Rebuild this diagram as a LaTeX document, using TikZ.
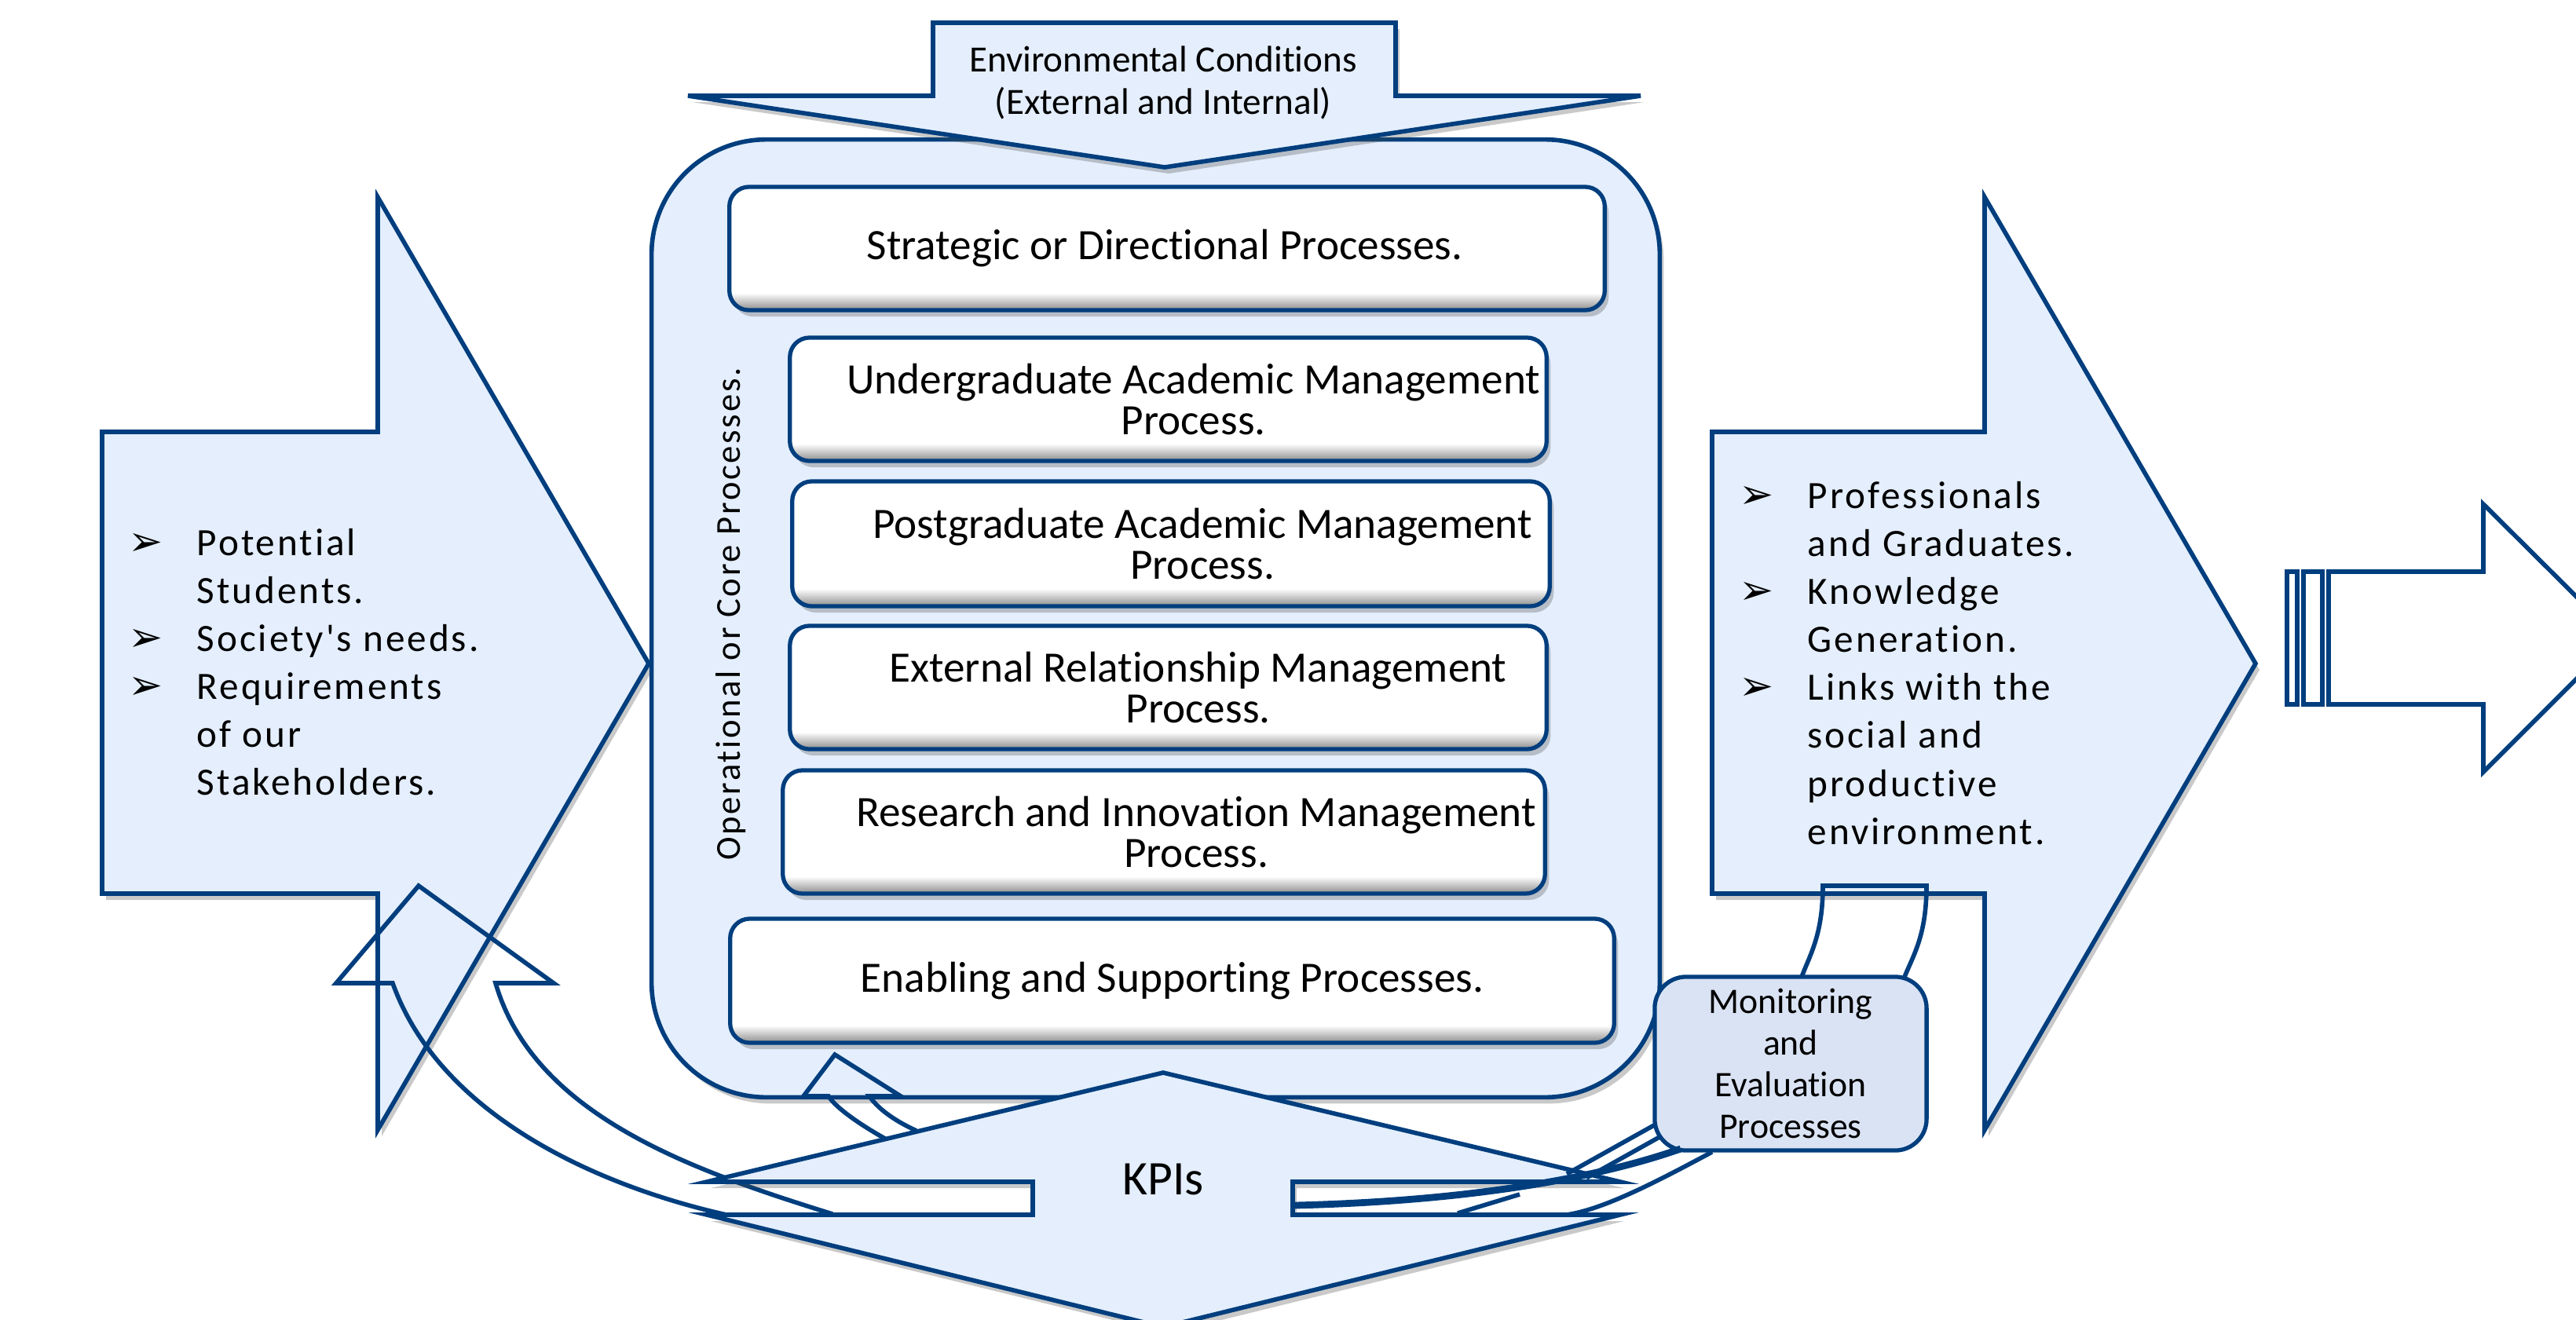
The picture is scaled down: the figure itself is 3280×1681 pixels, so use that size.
\documentclass[tikz,border=0pt]{standalone}
\usepackage{fontspec}
\setmainfont[Ligatures=NoCommon]{Carlito}
\newfontfamily\widefont[LetterSpace=6, Ligatures=NoCommon]{Carlito}
\newfontfamily\symfont{DejaVu Sans}
\usetikzlibrary{shadows}

\definecolor{navy}{RGB}{0,62,126}
\definecolor{paleblue}{RGB}{228,238,252}
\definecolor{monblue}{RGB}{218,227,243}

\newcommand{\arrowbullet}{{\symfont\fontsize{15}{15}\selectfont ➢}}

\pgfdeclareverticalshading{boxbevel}{100bp}{color(0bp)=(black!45); color(25bp)=(black!45);
  color(32bp)=(white); color(75bp)=(white); color(100bp)=(white)}

\tikzset{
  softshadow/.style={drop shadow={shadow xshift=0.5mm, shadow yshift=-0.8mm, opacity=0.3, fill=black!70}},
  blockarrow/.style={fill=paleblue, draw=navy, line width=1.6pt, line join=miter, softshadow},
  outline/.style={draw=navy, line width=1.6pt, line join=miter},
  procbox/.style={rectangle, draw=navy, shading=boxbevel, line width=1.5pt, rounded corners=0.25cm, softshadow},
  boxtext/.style={align=center, inner sep=0pt, font=\fontsize{15.7}{14.8}\selectfont},
  listtext/.style={anchor=base west, inner sep=0pt, font=\widefont\fontsize{14}{17.4}\selectfont},
}

\begin{document}
\begin{tikzpicture}[x=0.01cm, y=-0.01cm]
  \useasboundingbox (0,0) rectangle (3280,1681);
  \clip (0,0) rectangle (3280,1681);

  % inputs and outputs
  \draw[blockarrow] (130,550) -- (481,550) -- (481,251) -- (826,845) -- (481,1439) -- (481,1138) -- (130,1138) -- cycle;
  \draw[blockarrow] (2180,550) -- (2527,550) -- (2527,251) -- (2872,845) -- (2527,1439) -- (2527,1138) -- (2180,1138) -- cycle;

  \node[listtext] (inputs) at (163,707) {\begin{tabular}[t]{@{}p{0.87cm}@{}l@{}}
    \arrowbullet & Potential\\
                 & Students.\\
    \arrowbullet & Society's needs.\\
    \arrowbullet & Requirements\\
                 & of our\\
                 & Stakeholders.
  \end{tabular}};
  \node[listtext] (outputs) at (2214,647) {\begin{tabular}[t]{@{}p{0.87cm}@{}l@{}}
    \arrowbullet & Professionals\\
                 & and Graduates.\\
    \arrowbullet & Knowledge\\
                 & Generation.\\
    \arrowbullet & Links with the\\
                 & social and\\
                 & productive\\
                 & environment.
  \end{tabular}};

  % process map
  \node[draw=navy, fill=paleblue, line width=1.6pt, rounded corners=1.46cm,
        minimum width=12.83cm, minimum height=12.19cm, softshadow] (core) at (1471.5,787.5) {};

  \draw[blockarrow] (1188,29) -- (1777,29) -- (1777,122) -- (2089,122) -- (1483,213) -- (876,122) -- (1188,122) -- cycle;
  \node[boxtext, font=\fontsize{13.4}{15.4}\selectfont] (envtext) at (1481,105) {Environmental Conditions\\(External and Internal)};

  \node[procbox, minimum width=11.14cm, minimum height=1.57cm] (strat) at (1486,316.5) {};
  \node[procbox, minimum width=9.63cm, minimum height=1.57cm] (ugrad) at (1487.5,508.5) {};
  \node[procbox, minimum width=9.64cm, minimum height=1.59cm] (pgrad) at (1491,692.5) {};
  \node[procbox, minimum width=9.63cm, minimum height=1.57cm] (extrel) at (1487.5,875.5) {};
  \node[procbox, minimum width=9.70cm, minimum height=1.57cm] (research) at (1482,1059.5) {};
  \node[procbox, minimum width=11.25cm, minimum height=1.58cm] (enabling) at (1492.5,1249) {};

  \node[boxtext, xshift=-0.03cm] (strattext) at (strat) {Strategic or Directional Processes.};
  \node[boxtext, xshift=0.32cm] (ugradtext) at (ugrad) {Undergraduate Academic Management\\Process.};
  \node[boxtext, xshift=0.40cm] (pgradtext) at (pgrad) {Postgraduate Academic Management\\Process.};
  \node[boxtext, xshift=0.38cm] (extreltext) at (extrel) {External Relationship Management\\Process.};
  \node[boxtext, xshift=0.41cm] (researchtext) at (research) {Research and Innovation Management\\Process.};
  \node[boxtext] (enablingtext) at (enabling) {Enabling and Supporting Processes.};

  \node[rotate=90, inner sep=0pt, font=\widefont\fontsize{12.7}{15}\selectfont] (coretitle) at (931,782) {Operational or Core Processes.};

  % feedback
  \draw[outline] (1060,1546) .. controls (880,1490) and (680,1420) .. (631,1252) -- (705,1252) -- (533,1128)
    -- (428,1252) -- (500,1252) .. controls (560,1420) and (760,1510) .. (925,1547);
  \draw[outline] (1127,1450) .. controls (1100,1435) and (1065,1412) .. (1055,1396) -- (1023,1396) -- (1063,1343)
    -- (1147,1396) -- (1107,1396) .. controls (1120,1415) and (1145,1430) .. (1167,1440);

  \draw[blockarrow] (1481,1366) -- (2063,1505) -- (1646,1505) -- (1646,1547) -- (2063,1547) -- (1481,1690)
    -- (900,1547) -- (1315,1547) -- (1315,1505) -- (900,1505) -- cycle;
  \node[font=\fontsize{17.5}{19}\selectfont] (kpis) at (1481,1502) {KPIs};

  \draw[outline] (2294,1244) .. controls (2305,1215) and (2321,1190) .. (2321,1128) -- (2453,1128)
    .. controls (2453,1190) and (2437,1215) .. (2425,1244);
  \node[draw=navy, fill=monblue, line width=1.5pt, rounded corners=0.4cm, minimum width=3.46cm, minimum height=2.21cm,
        align=center, font=\fontsize{13}{15.1}\selectfont] (monitor) at (2280,1354.5) {Monitoring\\and\\Evaluation\\Processes};

  \draw[outline] (2106,1433) -- (1995,1495);
  \draw[outline] (2113,1448) -- (2020,1500);
  \draw[outline, line width=2.5pt] (2140,1463) .. controls (2020,1505) and (1850,1530) .. (1649,1535);
  \draw[outline] (2180,1467) .. controls (2100,1510) and (2040,1540) .. (1995,1547);
  \draw[outline] (1856,1545) -- (1935,1521);

  % onward arrow
  \draw[outline] (2965,728) -- (3162,728) -- (3162,642) -- (3333,812) -- (3162,983) -- (3162,897) -- (2965,897) -- cycle;
  \draw[outline] (2912,728) rectangle (2925,897);
  \draw[outline] (2933,728) rectangle (2957,897);

\end{tikzpicture}
\end{document}
